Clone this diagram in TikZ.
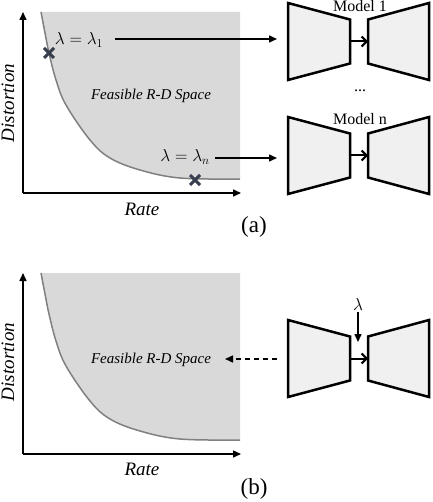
\documentclass[tikz,border=0pt]{standalone}
\usepackage{fontspec}
\setmainfont{Liberation Serif}
\usetikzlibrary{arrows.meta,calc}
\definecolor{rdfill}{RGB}{217,217,217}
\definecolor{rdcurve}{RGB}{128,128,128}
\definecolor{mfill}{RGB}{240,240,240}
\definecolor{xcol}{RGB}{55,62,78}
\tikzset{
  axis/.style={line width=1.5pt,-{Triangle[length=8pt,width=7pt]}},
  arr/.style={line width=1.5pt,-{Triangle[length=8pt,width=7pt]}},
  inarr/.style={line width=2pt,-{Straight Barb[length=5pt,width=10pt,line width=2pt]}},
  dasharr/.style={line width=1.5pt,dash pattern=on 5pt off 4pt,-{Triangle[length=8pt,width=7pt]}},
  trap/.style={draw,fill=mfill,line width=2.5pt,line join=miter},
  curve/.style={rdcurve,line width=1.5pt},
  cross/.style={xcol,line width=3pt},
  axlabel/.style={font=\fontsize{19}{21}\selectfont\itshape,inner sep=0pt},
  feas/.style={font=\fontsize{15}{17}\selectfont\itshape,inner sep=0pt},
  lam/.style={font=\fontsize{17}{19}\selectfont,inner sep=0pt},
  mlabel/.style={font=\fontsize{16}{18}\selectfont,inner sep=0pt},
  captext/.style={font=\fontsize{23}{25}\selectfont,inner sep=0pt},
}
\newcommand\codecmodel[2]{%
  \filldraw[trap] (288,#2-38.5) -- (350,#2-22) -- (350,#2+22) -- (288,#2+38.5) -- cycle;
  \filldraw[trap] (368,#2-22) -- (429,#2-38.5) -- (429,#2+38.5) -- (368,#2+22) -- cycle;
  \coordinate (#1in) at (277,#2);
  \coordinate (#1el) at (350,#2);
  \coordinate (#1dl) at (368,#2);
  \draw[inarr] (#1el) -- (#1dl);
}
\newcommand\rdplot{%
  \fill[rdfill] plot[smooth,tension=0.6] coordinates {(41,12) (45,33) (49,53) (56,80) (66,105) (90,140) (110,158) (140,170) (180,178) (240,179)} -- (240,12) -- cycle;
  \draw[curve] plot[smooth,tension=0.6] coordinates {(41,12) (45,33) (49,53) (56,80) (66,105) (90,140) (110,158) (140,170) (180,178) (240,179)};
}
\begin{document}
\begin{tikzpicture}[x=1pt,y=-1pt]
\useasboundingbox (0,0) rectangle (432,502);
% ---------- (a) ----------
\rdplot
\coordinate (ao) at (23,193);
\coordinate (ay) at (23,12);
\coordinate (ax) at (241,193);
\draw[axis] (ao) -- (ay);
\draw[axis] (ao) -- (ax);
\node[axlabel,rotate=90] (adist) at (8,103) {Distortion};
\node[axlabel] (arate) at (142,209) {Rate};
\node[feas] (afeas) at (151,96) {Feasible R-D Space};
% crosses
\coordinate (c1) at (49,53);
\coordinate (cn) at (195,180);
\draw[cross] ($(c1)+(-5,-5)$) -- ($(c1)+(5,5)$);
\draw[cross] ($(c1)+(-5,5)$) -- ($(c1)+(5,-5)$);
\draw[cross] ($(cn)+(-5,-5)$) -- ($(cn)+(5,5)$);
\draw[cross] ($(cn)+(-5,5)$) -- ($(cn)+(5,-5)$);
\node[lam] (l1) at (79,40) {$\lambda=\lambda_1$};
\node[lam] (ln) at (185,157) {$\lambda=\lambda_n$};
\codecmodel{ma}{41.5}
\codecmodel{mb}{155.5}
\coordinate (l1st) at (115,39);
\coordinate (lnst) at (215,158);
\draw[arr] (l1st) -- (main |- l1st);
\draw[arr] (lnst) -- (mbin |- lnst);
\node[mlabel] (mod1) at (360,6.5) {Model 1};
\node[mlabel] (dots) at (360,91) {...};
\node[mlabel] (modn) at (360,119) {Model n};
\node[captext] (capa) at (254,227) {(a)};
% ---------- (b) ----------
\begin{scope}[shift={(0,261)}]
\rdplot
\end{scope}
\coordinate (bo) at (23,454);
\coordinate (by) at (23,273);
\coordinate (bx) at (241,454);
\draw[axis] (bo) -- (by);
\draw[axis] (bo) -- (bx);
\node[axlabel,rotate=90] (bdist) at (8,362) {Distortion};
\node[axlabel] (brate) at (142,469) {Rate};
\node[feas] (bfeas) at (151,360) {Feasible R-D Space};
\codecmodel{mc}{358.5}
\coordinate (bfeasr) at (225,359);
\draw[dasharr] (mcin |- bfeasr) -- (bfeasr);
\node[lam] (lb) at (358,304) {$\lambda$};
\coordinate (lbtip) at (358,342);
\draw[arr] (lb.south) ++(0,2) -- (lbtip);
\node[captext] (capb) at (254,489) {(b)};
\end{tikzpicture}
\end{document}
